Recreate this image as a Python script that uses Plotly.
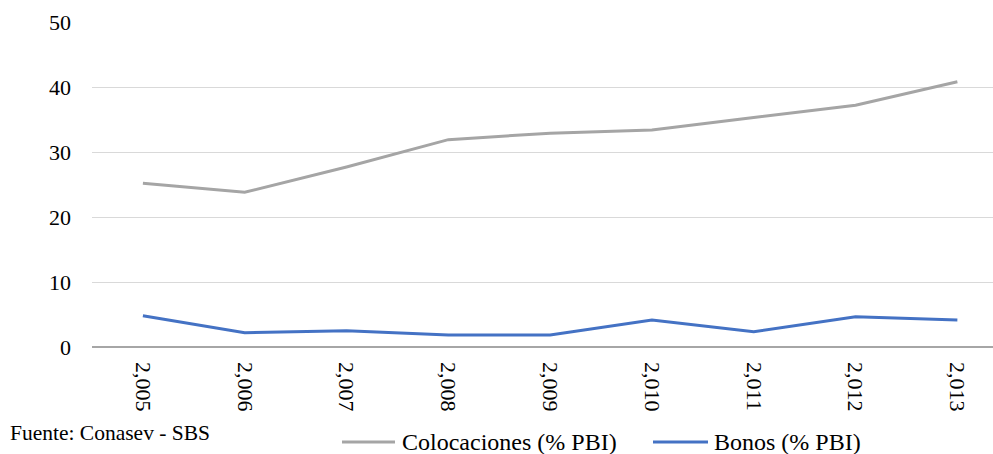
import plotly.graph_objects as go

years = ["2,005", "2,006", "2,007", "2,008", "2,009", "2,010", "2,011", "2,012", "2,013"]
colocaciones = [25.2, 23.8, 27.7, 31.9, 32.9, 33.4, 35.3, 37.2, 40.8]
bonos = [4.8, 2.2, 2.5, 1.85, 1.85, 4.15, 2.35, 4.65, 4.15]
y_ticks = [0, 10, 20, 30, 40, 50]

series_names = ["Colocaciones (% PBI)", "Bonos (% PBI)"]
series_colors = ["#a5a5a5", "#4472c4"]

SERIF = "Liberation Serif"
PLOT_LEFT, PLOT_W, PLOT_BOTTOM, PLOT_H = 92, 901, 347, 325


def px_x(p):
    """Pixel column -> paper x."""
    return (p - PLOT_LEFT) / PLOT_W


def px_y(p):
    """Pixel row -> paper y."""
    return (PLOT_BOTTOM - p) / PLOT_H


fig = go.Figure()
for name, values, color in zip(series_names, [colocaciones, bonos], series_colors):
    fig.add_trace(go.Scatter(
        x=years, y=values, mode="lines", name=name,
        line=dict(color=color, width=3), showlegend=False,
    ))

fig.update_layout(
    width=993, height=454,
    margin=dict(l=PLOT_LEFT, r=0, t=22, b=107, autoexpand=False),
    paper_bgcolor="white", plot_bgcolor="white",
    font=dict(family=SERIF, size=22, color="#000000"),
    showlegend=False,
    xaxis=dict(
        type="category", range=[-0.5, 8.35],
        showgrid=False, showline=False, zeroline=False,
        tickangle=90, ticks="", ticklabelstandoff=14,
        tickfont=dict(family=SERIF, size=22, color="#000000"),
    ),
    yaxis=dict(
        range=[0, 50], tickvals=y_ticks,
        showgrid=True, gridcolor="#d9d9d9", gridwidth=1,
        zeroline=True, zerolinecolor="#a6a6a6", zerolinewidth=1.5,
        showline=False, ticks="", ticklabelstandoff=20,
        tickfont=dict(family=SERIF, size=22, color="#000000"),
    ),
)

# Legend row under the chart: a long line swatch followed by the series name
legend_y = 442
legend_items = [(342, 395, 400), (653, 708, 712)]
for (x0, x1, tx), name, color in zip(legend_items, series_names, series_colors):
    fig.add_shape(
        type="line", xref="paper", yref="paper",
        x0=px_x(x0), x1=px_x(x1), y0=px_y(legend_y), y1=px_y(legend_y),
        line=dict(color=color, width=3),
    )
    fig.add_annotation(
        text=name, xref="paper", yref="paper",
        x=px_x(tx), y=px_y(legend_y), xanchor="left", yanchor="middle",
        showarrow=False, font=dict(family=SERIF, size=24, color="#000000"),
    )

fig.add_annotation(
    text="Fuente: Conasev - SBS", xref="paper", yref="paper",
    x=px_x(8), y=px_y(433), xanchor="left", yanchor="middle",
    showarrow=False, font=dict(family=SERIF, size=21.5, color="#000000"),
)

fig.write_html("out.html")
